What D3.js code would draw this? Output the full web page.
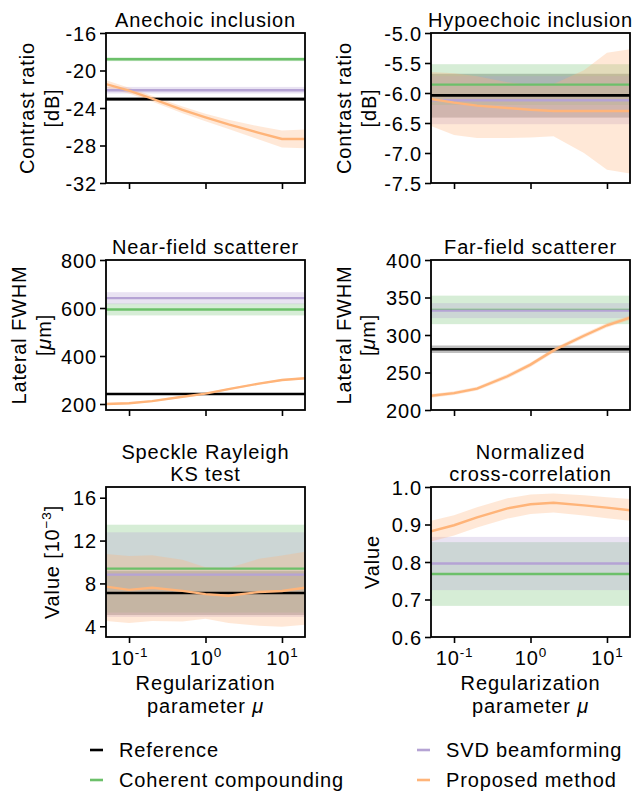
<!DOCTYPE html>
<html>
<head>
<meta charset="utf-8">
<script src="https://cdn.jsdelivr.net/npm/d3@7"></script>
<style>
  body { margin: 0; background: #fff; }
  svg { display: block; }
  text { font-family: "Liberation Sans", Arial, sans-serif; fill: #000; letter-spacing: 0.85px; }
</style>
</head>
<body>
<svg id="chart" width="634" height="793"></svg>
<script>
// x 軸の値（正則化パラメータ μ）
const muValues = [0.05, 0.1, 0.2, 0.5, 1, 2, 5, 10, 20];
const xTicks = [0.1, 1, 10];
const xTickExp = ["-1", "0", "1"];

// 各手法の定数値 [平均, 下限, 上限]
const anechoicRef = [-23.05, -23.25, -22.85];
const anechoicCoherent = [-18.8, -19.0, -18.6];
const anechoicSvd = [-22.1, -22.45, -21.75];
const anechoicProposed = [-21.45, -22.15, -23.0, -24.2, -25.0, -25.75, -26.65, -27.3, -27.3];
const anechoicLow = [-21.85, -22.45, -23.3, -24.55, -25.4, -26.25, -27.35, -28.2, -28.3];
const anechoicHigh = [-21.05, -21.85, -22.7, -23.85, -24.6, -25.25, -25.95, -26.4, -26.3];

const hypoRef = [-6.04, -6.41, -5.68];
const hypoCoherent = [-5.86, -6.2, -5.52];
const hypoSvd = [-6.12, -6.52, -5.72];
const hypoProposed = [-6.10, -6.16, -6.21, -6.25, -6.28, -6.30, -6.30, -6.30, -6.30];
const hypoLow = [-6.55, -6.70, -6.75, -6.75, -6.74, -6.72, -7.0, -7.28, -7.34];
const hypoHigh = [-5.65, -5.67, -5.72, -5.82, -5.87, -5.85, -5.62, -5.33, -5.27];

const nearRef = [241.5, 238.5, 244.5];
const nearCoherent = [594, 569, 619];
const nearSvd = [641, 616, 666];
const nearProposed = [200, 203, 212, 230, 243, 262, 285, 300, 307];
const nearLow = [196, 199, 208, 226, 239, 258, 281, 296, 303];
const nearHigh = [204, 207, 216, 234, 247, 266, 289, 304, 311];

const farRef = [281, 276, 286];
const farCoherent = [333.5, 314.5, 352.5];
const farSvd = [332.5, 322.5, 342.5];
const farProposed = [219, 222.5, 228.5, 245, 260.5, 279.5, 299, 313, 323];
const farLow = [216.5, 220, 226, 242, 257.5, 276.5, 296, 310, 320];
const farHigh = [221.5, 225, 231, 248, 263.5, 282.5, 302, 316, 326];

const speckleRef = [7.1, 5.05, 9.15];
const speckleCoherent = [9.38, 5.28, 13.48];
const speckleSvd = [8.82, 4.87, 12.77];
const speckleProposed = [7.7, 7.4, 7.6, 7.3, 7.0, 6.85, 7.2, 7.3, 7.6];
const speckleLow = [4.5, 4.3, 4.5, 4.45, 4.7, 4.3, 4.05, 3.95, 4.15];
const speckleHigh = [10.74, 10.55, 10.62, 10.2, 9.5, 9.45, 10.3, 10.6, 10.95];

const nccCoherent = [0.768, 0.683, 0.853];
const nccSvd = [0.796, 0.725, 0.867];
const nccProposed = [0.882, 0.898, 0.919, 0.943, 0.954, 0.958, 0.951, 0.945, 0.938];
const nccLow = [0.855, 0.871, 0.892, 0.916, 0.928, 0.932, 0.924, 0.917, 0.91];
const nccHigh = [0.91, 0.925, 0.946, 0.97, 0.98, 0.983, 0.978, 0.973, 0.968];

// y 軸の目盛り
const anechoicTicks = ["-16", "-20", "-24", "-28", "-32"];
const hypoTicks = ["-5.0", "-5.5", "-6.0", "-6.5", "-7.0", "-7.5"];
const nearTicks = ["200", "400", "600", "800"];
const farTicks = ["200", "250", "300", "350", "400"];
const speckleTicks = ["4", "8", "12", "16"];
const nccTicks = ["0.6", "0.7", "0.8", "0.9", "1.0"];

const legendNames = ["Reference", "Coherent compounding", "SVD beamforming", "Proposed method"];
const colors = { ref: "#000000", coherent: "#6cc06a", svd: "#b5a3d4", proposed: "#ffb479" };

const svg = d3.select("#chart");
const fontSize = 20;
const supSize = 13.5;

const panels = [
  { title: ["Anechoic inclusion"], ylab: ["Contrast ratio", "[dB]"], ylabX: [34, 59],
    left: 106, top: 33, yDomain: [-32, -16], yTicks: anechoicTicks,
    ref: anechoicRef, coherent: anechoicCoherent, svd: anechoicSvd,
    prop: anechoicProposed, low: anechoicLow, high: anechoicHigh, xlab: false },
  { title: ["Hypoechoic inclusion"], ylab: ["Contrast ratio", "[dB]"], ylabX: [351, 376],
    left: 431, top: 33, yDomain: [-7.5, -5.0], yTicks: hypoTicks,
    ref: hypoRef, coherent: hypoCoherent, svd: hypoSvd,
    prop: hypoProposed, low: hypoLow, high: hypoHigh, xlab: false },
  { title: ["Near-field scatterer"], ylab: ["Lateral FWHM", "mu"], ylabX: [26, 51],
    left: 106, top: 260, yDomain: [175, 800], yTicks: nearTicks,
    ref: nearRef, coherent: nearCoherent, svd: nearSvd,
    prop: nearProposed, low: nearLow, high: nearHigh, xlab: false },
  { title: ["Far-field scatterer"], ylab: ["Lateral FWHM", "mu"], ylabX: [351, 375],
    left: 431, top: 260, yDomain: [200, 400], yTicks: farTicks,
    ref: farRef, coherent: farCoherent, svd: farSvd,
    prop: farProposed, low: farLow, high: farHigh, xlab: false },
  { title: ["Speckle Rayleigh", "KS test"], ylab: ["exp"], ylabX: [59],
    left: 106, top: 487, yDomain: [3, 17], yTicks: speckleTicks,
    ref: speckleRef, coherent: speckleCoherent, svd: speckleSvd,
    prop: speckleProposed, low: speckleLow, high: speckleHigh, xlab: true },
  { title: ["Normalized", "cross-correlation"], ylab: ["Value"], ylabX: [379],
    left: 431, top: 487, yDomain: [0.6, 1.0], yTicks: nccTicks,
    ref: null, coherent: nccCoherent, svd: nccSvd,
    prop: nccProposed, low: nccLow, high: nccHigh, xlab: true }
];

const pw = 199, ph = 150;

panels.forEach((p, i) => {
  const g = svg.append("g").attr("transform", `translate(${p.left},${p.top})`);
  const x = d3.scaleLog().domain([0.05, 20]).range([0, pw]);
  const y = d3.scaleLinear().domain(p.yDomain).range([ph, 0]);

  g.append("clipPath").attr("id", "clip" + i)
    .append("rect").attr("width", pw).attr("height", ph);
  const plot = g.append("g").attr("clip-path", `url(#clip${i})`);
  const bands = plot.append("g");
  const lines = plot.append("g");

  // 定数の手法（帯 + 線）
  const constant = (vals, color, bandOpacity, lw) => {
    if (!vals) return;
    bands.append("rect")
      .attr("x", 0).attr("width", pw)
      .attr("y", y(vals[2])).attr("height", y(vals[1]) - y(vals[2]))
      .attr("fill", color).attr("fill-opacity", bandOpacity);
    lines.append("line")
      .attr("x1", 0).attr("x2", pw)
      .attr("y1", y(vals[0])).attr("y2", y(vals[0]))
      .attr("stroke", color).attr("stroke-width", lw);
  };
  constant(p.ref, colors.ref, 0.25, 2.6);
  constant(p.coherent, colors.coherent, 0.28, 2.4);
  constant(p.svd, colors.svd, 0.3, 2.4);

  const rows = muValues.map((m, k) => ({ m, v: p.prop[k], lo: p.low[k], hi: p.high[k] }));
  bands.append("path").datum(rows)
    .attr("d", d3.area().x(d => x(d.m)).y0(d => y(d.lo)).y1(d => y(d.hi)))
    .attr("fill", colors.proposed).attr("fill-opacity", 0.3);
  lines.append("path").datum(rows)
    .attr("d", d3.line().x(d => x(d.m)).y(d => y(d.v)))
    .attr("fill", "none").attr("stroke", colors.proposed).attr("stroke-width", 2.4);

  // 軸
  const yAxis = g.append("g")
    .call(d3.axisLeft(y).tickValues(p.yTicks.map(Number)).tickFormat((d, k) => p.yTicks[k])
      .tickSize(6).tickPadding(3).tickSizeOuter(0));
  const xAxis = g.append("g").attr("transform", `translate(0,${ph})`)
    .call(d3.axisBottom(x).tickValues(xTicks).tickFormat("").tickSize(6).tickSizeOuter(0));
  [yAxis, xAxis].forEach(a => {
    a.select(".domain").remove();
    a.selectAll(".tick line").attr("stroke", "#000").attr("stroke-width", 1.6);
    a.selectAll("text").attr("font-size", fontSize).style("font-family", '"Liberation Sans", Arial, sans-serif');
  });
  yAxis.selectAll(".tick text").attr("dy", "0.36em");

  if (p.xlab) {
    xAxis.selectAll(".tick").each(function(d, k) {
      const t = d3.select(this).append("text")
        .attr("y", 28).attr("text-anchor", "middle").attr("font-size", fontSize);
      t.append("tspan").text("10");
      t.append("tspan").attr("font-size", supSize).attr("dy", -8).text(xTickExp[k]);
    });
    g.append("text").attr("x", pw / 2).attr("y", ph + 53)
      .attr("text-anchor", "middle").attr("font-size", fontSize).text("Regularization");
    const pl = g.append("text").attr("x", pw / 2).attr("y", ph + 76)
      .attr("text-anchor", "middle").attr("font-size", fontSize);
    pl.append("tspan").text("parameter ");
    pl.append("tspan").attr("font-style", "italic").text("μ");
  }

  // 枠線
  g.append("rect").attr("width", pw).attr("height", ph)
    .attr("fill", "none").attr("stroke", "#000").attr("stroke-width", 1.8);

  // タイトル
  p.title.forEach((t, k) => {
    g.append("text").attr("x", pw / 2)
      .attr("y", -6 - (p.title.length - 1 - k) * 22.5)
      .attr("text-anchor", "middle").attr("font-size", fontSize).text(t);
  });

  // y ラベル
  p.ylab.forEach((t, k) => {
    const lx = p.ylabX[k] - p.left;
    const tx = g.append("text")
      .attr("transform", `translate(${lx},${ph / 2}) rotate(-90)`)
      .attr("text-anchor", "middle").attr("font-size", fontSize);
    if (t === "mu") {
      tx.append("tspan").text("[");
      tx.append("tspan").attr("font-style", "italic").text("μ");
      tx.append("tspan").text("m]");
    } else if (t === "exp") {
      tx.append("tspan").text("Value [10");
      tx.append("tspan").attr("font-size", supSize).attr("dy", -8).text("−3");
      tx.append("tspan").attr("dy", 8).text("]");
    } else {
      tx.text(t);
    }
  });
});

// 凡例
const legendPos = [[90, 750], [90, 780], [417, 750], [417, 780]];
const legendColors = [colors.ref, colors.coherent, colors.svd, colors.proposed];
legendNames.forEach((name, k) => {
  const [lx, ly] = legendPos[k];
  svg.append("line").attr("x1", lx).attr("x2", lx + 13)
    .attr("y1", ly).attr("y2", ly)
    .attr("stroke", legendColors[k]).attr("stroke-width", 2.6);
  svg.append("text").attr("x", lx + 29).attr("y", ly + 7)
    .attr("font-size", fontSize).text(name);
});
</script>
</body>
</html>
